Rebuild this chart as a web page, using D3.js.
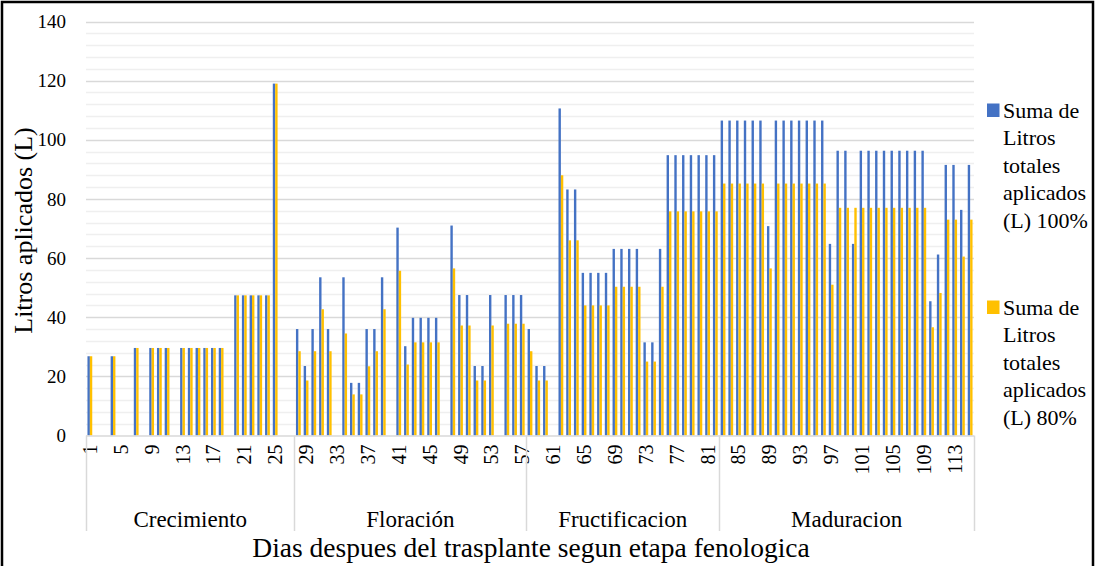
<!DOCTYPE html>
<html>
<head>
<meta charset="utf-8">
<script src="https://cdn.jsdelivr.net/npm/d3@7"></script>
<style>
  html, body { margin: 0; padding: 0; background: #fff; }
  svg { display: block; }
  svg text { font-family: "Liberation Serif", "Times New Roman", Times, "DejaVu Serif", serif !important; }
</style>
</head>
<body>
<svg id="chart" width="1097" height="566"></svg>
<script>
// ---- DATA ----
const days = [1,2,3,4,5,6,7,8,9,10,11,12,13,14,15,16,17,18,19,20,21,22,23,24,25,26,27,28,29,30,
  31,32,33,34,35,36,37,38,39,40,41,42,43,44,45,46,47,48,49,50,51,52,53,54,55,56,57,58,59,60,
  61,62,63,64,65,66,67,68,69,70,71,72,73,74,75,76,77,78,79,80,81,82,83,84,85,86,87,88,89,90,
  91,92,93,94,95,96,97,98,99,100,101,102,103,104,105,106,107,108,109,110,111,112,113,114,115];

// Suma de Litros totales aplicados (L) 100%
const litros100 = [
  26.8,null,null,26.8,null,null,29.6,null,29.6,29.6,29.6,null,29.6,29.6,29.6,29.6,29.6,29.6,null,47.4,
  47.4,47.4,47.4,47.4,119,null,null,36,23.5,36,53.5,36,null,53.5,17.8,17.8,36,36,53.5,null,
  70.3,30.2,39.8,39.8,39.8,39.8,null,71,47.5,47.5,23.5,23.5,47.5,null,47.5,47.5,47.5,36,23.5,23.5,
  null,110.6,83.2,83.2,55,55,55,55,63.1,63.1,63.1,63.1,31.5,31.5,63.1,94.8,94.8,94.8,94.8,94.8,
  94.8,94.8,106.5,106.5,106.5,106.5,106.5,106.5,70.8,106.5,106.5,106.5,106.5,106.5,106.5,106.5,64.8,96.3,96.3,64.8,
  96.3,96.3,96.3,96.3,96.3,96.3,96.3,96.3,96.3,45.4,61.2,91.5,91.5,76.3,91.5];

// Suma de Litros totales aplicados (L) 80%
const litros80 = [
  26.8,null,null,26.8,null,null,29.6,null,29.6,29.6,29.6,null,29.6,29.6,29.6,29.6,29.6,29.6,null,47.4,
  47.4,47.4,47.4,47.4,119,null,null,28.5,18.6,28.5,42.7,28.5,null,34.5,13.9,13.9,23.4,28.5,42.7,null,
  55.7,24.0,31.5,31.5,31.5,31.5,null,56.5,37.2,37.2,18.6,18.6,37.2,null,37.8,37.8,37.8,28.5,18.6,18.6,
  null,88,66,66,44,44,44,44,50.3,50.3,50.3,50.3,25,25,50.3,75.8,75.8,75.8,75.8,75.8,
  75.8,75.8,85.2,85.2,85.2,85.2,85.2,85.2,56.5,85.2,85.2,85.2,85.2,85.2,85.2,85.2,51,77,77,77,
  77,77,77,77,77,77,77,77,77,36.6,48.2,73,73,60.5,73];

const phaseNames = ["Crecimiento", "Floración", "Fructificacion", "Maduracion"];
const phaseFirstDay = [1, 28, 58, 83];
const phaseLastDay = [27, 57, 82, 115];

const yTicks = [0, 20, 40, 60, 80, 100, 120, 140];
const xTickLabels = [1,5,9,13,17,21,25,29,33,37,41,45,49,53,57,61,65,69,73,77,81,85,89,93,97,101,105,109,113];

const seriesKeys = ["s100", "s80"];
const seriesColors = { s100: "#4472C4", s80: "#FFC000" };
const legendLines = {
  s100: ["Suma de", "Litros", "totales", "aplicados", "(L) 100%"],
  s80: ["Suma de", "Litros", "totales", "aplicados", "(L) 80%"]
};

// ---- CHART ----
const svg = d3.select("#chart");
const W = 1097, H = 566;
const plot = { left: 86, right: 974, top: 21.5, bottom: 435.5 };

svg.append("rect").attr("width", W).attr("height", H).attr("fill", "#fff");

const y = d3.scaleLinear().domain([0, 140]).range([plot.bottom, plot.top]);
const x = d3.scaleBand().domain(days).range([plot.left, plot.right])
  .paddingInner(0.38).paddingOuter(0.19);
const x1 = d3.scaleBand().domain(seriesKeys).range([0, x.bandwidth()]);

// minor gridlines (every 4)
const minor = d3.range(0, 141, 4).filter(v => v % 20 !== 0);
svg.append("g").selectAll("line").data(minor).join("line")
  .attr("x1", plot.left).attr("x2", plot.right)
  .attr("y1", d => Math.round(y(d)) + 0.5).attr("y2", d => Math.round(y(d)) + 0.5)
  .attr("stroke", "#efefef").attr("stroke-width", 1.5);

// major gridlines
svg.append("g").selectAll("line").data(yTicks.filter(v => v > 0)).join("line")
  .attr("x1", plot.left).attr("x2", plot.right)
  .attr("y1", d => Math.round(y(d)) + 0.5).attr("y2", d => Math.round(y(d)) + 0.5)
  .attr("stroke", "#d9d9d9").attr("stroke-width", 1.5);

// y axis labels
const yAxis = d3.axisLeft(y).tickValues(yTicks).tickSize(0).tickPadding(0);
const gy = svg.append("g").attr("transform", `translate(${plot.left - 20},0)`).call(yAxis);
gy.attr("font-family", null);
gy.select(".domain").remove();
gy.selectAll("text").attr("font-size", 19).attr("fill", "#000");

// bars
const rows = days.map((d, i) => ({ day: d, s100: litros100[i], s80: litros80[i] }));
const groups = svg.append("g").selectAll("g").data(rows).join("g")
  .attr("transform", d => `translate(${x(d.day)},0)`);
groups.selectAll("rect")
  .data(d => seriesKeys.map(k => ({ key: k, value: d[k] })).filter(e => e.value != null))
  .join("rect")
  .attr("x", d => x1(d.key))
  .attr("width", x1.bandwidth())
  .attr("y", d => y(d.value))
  .attr("height", d => y(0) - y(d.value))
  .attr("fill", d => seriesColors[d.key]);

// x axis line
svg.append("line").attr("x1", plot.left).attr("x2", plot.right)
  .attr("y1", plot.bottom + 0.5).attr("y2", plot.bottom + 0.5)
  .attr("stroke", "#d9d9d9").attr("stroke-width", 1.5);

// x tick labels (rotated)
const xAxis = d3.axisBottom(x).tickValues(xTickLabels).tickSize(0).tickPadding(0);
const gx = svg.append("g").attr("transform", `translate(0,${plot.bottom})`).call(xAxis);
gx.attr("font-family", null);
gx.select(".domain").remove();
gx.selectAll("text")
  .attr("font-size", 20).attr("fill", "#000")
  .attr("transform", "rotate(-90)")
  .attr("x", -9).attr("y", 0).attr("dy", "0.35em")
  .attr("text-anchor", "end");

// phase separators & labels
const bounds = [plot.left, ...phaseFirstDay.slice(1).map(d => x(d) - x.step() * x.paddingInner() / 2), plot.right];
svg.append("g").selectAll("line").data(bounds).join("line")
  .attr("x1", d => Math.round(d) + 0.5).attr("x2", d => Math.round(d) + 0.5)
  .attr("y1", plot.bottom).attr("y2", 531)
  .attr("stroke", "#d9d9d9").attr("stroke-width", 1.5);

svg.append("g").selectAll("text").data(phaseNames).join("text")
  .attr("x", (d, i) => (x(phaseFirstDay[i]) + x(phaseLastDay[i]) + x.bandwidth()) / 2)
  .attr("y", 527)
  .attr("text-anchor", "middle").attr("font-size", 23).attr("fill", "#000")
  .text(d => d);

// axis titles
svg.append("text")
  .attr("transform", `translate(32,${(plot.top + plot.bottom) / 2 + 2}) rotate(-90)`)
  .attr("text-anchor", "middle").attr("font-size", 26).attr("fill", "#000")
  .text("Litros aplicados (L)");

svg.append("text")
  .attr("x", 531).attr("y", 557)
  .attr("text-anchor", "middle").attr("font-size", 27.5).attr("fill", "#000")
  .text("Dias despues del trasplante segun etapa fenologica");

// legend
const legendTop = { s100: 103.5, s80: 300.5 };
const lg = svg.append("g").selectAll("g").data(seriesKeys).join("g")
  .attr("transform", d => `translate(987,${legendTop[d]})`);
lg.append("rect").attr("width", 12.5).attr("height", 13.5).attr("fill", d => seriesColors[d]);
lg.append("text").attr("x", 16).attr("font-size", 22).attr("fill", "#000")
  .selectAll("tspan").data(d => legendLines[d]).join("tspan")
  .attr("x", 16).attr("y", (d, i) => 14 + i * 27.5)
  .text(d => d);

// outer frame
svg.append("path")
  .attr("d", `M2,${H} L2,2 L${W - 4},2 L${W - 4},${H}`)
  .attr("fill", "none").attr("stroke", "#000").attr("stroke-width", 2.5);
</script>
</body>
</html>
